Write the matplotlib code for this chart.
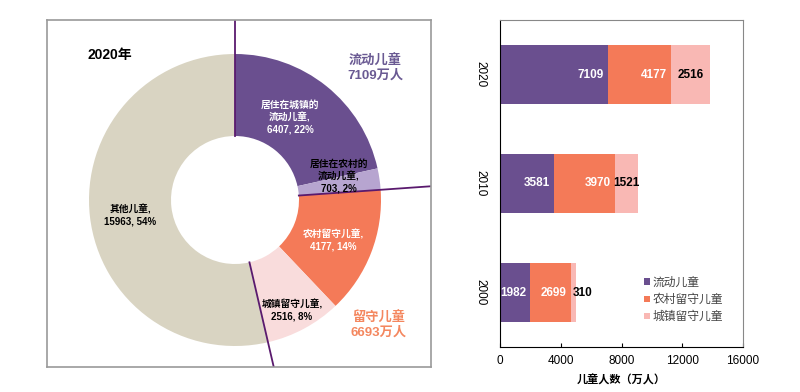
import numpy as np
import matplotlib.pyplot as plt

plt.rcParams['font.family'] = ['Liberation Sans', 'Noto Sans CJK SC', 'DejaVu Sans']

# donut, 2020
donut_labels = ['居住在城镇的\n流动儿童,', '居住在农村的\n流动儿童,', '农村留守儿童,', '城镇留守儿童,', '其他儿童,']
donut_values = [6407, 703, 4177, 2516, 15963]
donut_colors = ['#6a4f8f', '#b7a5d0', '#f47a58', '#f9dcdc', '#d9d4c2']
donut_text_colors = ['white', 'black', 'white', 'black', 'black']
donut_text_pos = [(55, 83), (104, 24), (98, -40), (57, -110), (-105, -15)]

# stacked bars
years = ['2000', '2010', '2020']
liudong = [1982, 3581, 7109]
nongcun = [2699, 3970, 4177]
chengzhen = [310, 1521, 2516]
bar_names = ['流动儿童', '农村留守儿童', '城镇留守儿童']
bar_colors = ['#6a4f8f', '#f47a58', '#f9b8b4']

W, H = 800, 392
fig = plt.figure(figsize=(8, 3.92), dpi=100)

# ---- left: donut in pixel-like units
bx0, by0, bx1, by1 = 47, 20, 431, 367
cx, cy = 235, 200
ax1 = fig.add_axes([bx0 / W, 1 - by1 / H, (bx1 - bx0) / W, (by1 - by0) / H])

R, r_in = 146, 64
ax1.pie(donut_values, colors=donut_colors, startangle=90, counterclock=False,
        radius=R, wedgeprops=dict(width=R - r_in, edgecolor='none'), frame=True)
ax1.set_xlim(bx0 - cx, bx1 - cx)
ax1.set_ylim(cy - by1, cy - by0)
ax1.set_aspect('equal')
ax1.set_xticks([])
ax1.set_yticks([])
for s in ax1.spines.values():
    s.set_color('#9a9a9a')
    s.set_linewidth(1.2)

total = sum(donut_values)
for lab, v, tc, (tx, ty) in zip(donut_labels, donut_values, donut_text_colors, donut_text_pos):
    ax1.text(tx, ty, f'{lab}\n{v}, {round(v / total * 100)}%', color=tc, fontsize=7,
             ha='center', va='center', fontweight='bold', linespacing=1.25)

# group separators
cum = np.cumsum(donut_values)
for c in [0, cum[1], cum[3]]:
    a = np.deg2rad(90 - 360 * c / total)
    ax1.plot([r_in * np.cos(a), 400 * np.cos(a)], [r_in * np.sin(a), 400 * np.sin(a)],
             color='#5a1a6e', lw=1.3)

ax1.text(-148, 145, '2020年', fontsize=10, fontweight='bold', ha='left', va='center')
ax1.text(140, 132, f'流动儿童\n{liudong[-1]}万人', fontsize=9.5, fontweight='bold',
         color='#6a5a93', ha='center', va='center', linespacing=1.1)
ax1.text(144, -125, f'留守儿童\n{nongcun[-1] + chengzhen[-1]}万人', fontsize=9.5, fontweight='bold',
         color='#f4875f', ha='center', va='center', linespacing=1.1)

# ---- right: stacked bars
ax2 = fig.add_axes([500 / W, 1 - 347 / H, 243 / W, 327 / H])
y = np.arange(len(years))
h = 0.55
ax2.barh(y, liudong, h, color=bar_colors[0], label=bar_names[0])
ax2.barh(y, nongcun, h, left=liudong, color=bar_colors[1], label=bar_names[1])
left3 = np.array(liudong) + np.array(nongcun)
ax2.barh(y, chengzhen, h, left=left3, color=bar_colors[2], label=bar_names[2])

for i in range(len(years)):
    ax2.annotate(str(liudong[i]), (liudong[i], y[i]), xytext=(-3, 0), textcoords='offset points',
                 ha='right', va='center', color='white', fontsize=8.5, fontweight='bold')
    ax2.annotate(str(nongcun[i]), (left3[i], y[i]), xytext=(-3, 0), textcoords='offset points',
                 ha='right', va='center', color='white', fontsize=8.5, fontweight='bold')
    if chengzhen[i] < 1000:
        ax2.annotate(str(chengzhen[i]), (left3[i], y[i]), xytext=(1, 0), textcoords='offset points',
                     ha='left', va='center', color='black', fontsize=8.5, fontweight='bold')
    else:
        ax2.text(left3[i] + chengzhen[i] / 2, y[i], str(chengzhen[i]),
                 ha='center', va='center', color='black', fontsize=8.5, fontweight='bold')

ax2.set_xlim(0, 16000)
ax2.set_ylim(-0.5, 2.5)
ax2.set_xticks([0, 4000, 8000, 12000, 16000])
ax2.set_yticks(y)
ax2.set_yticklabels(years, rotation=-90, va='center')
ax2.tick_params(axis='x', direction='in', length=3, labelsize=8.5, pad=6)
ax2.tick_params(axis='y', length=0, labelsize=8.5, pad=10)
ax2.set_xlabel('儿童人数（万人）', fontsize=8, fontweight='bold', labelpad=5)
for k in ['top', 'right']:
    ax2.spines[k].set_color('#888888')
ax2.legend(loc='lower left', bbox_to_anchor=(0.55, 0.04), frameon=False, fontsize=8.5,
           handlelength=0.45, handleheight=0.45, handletextpad=0.25, labelspacing=0.45,
           labelcolor='#444444')

fig.savefig('out.png', dpi=100)
